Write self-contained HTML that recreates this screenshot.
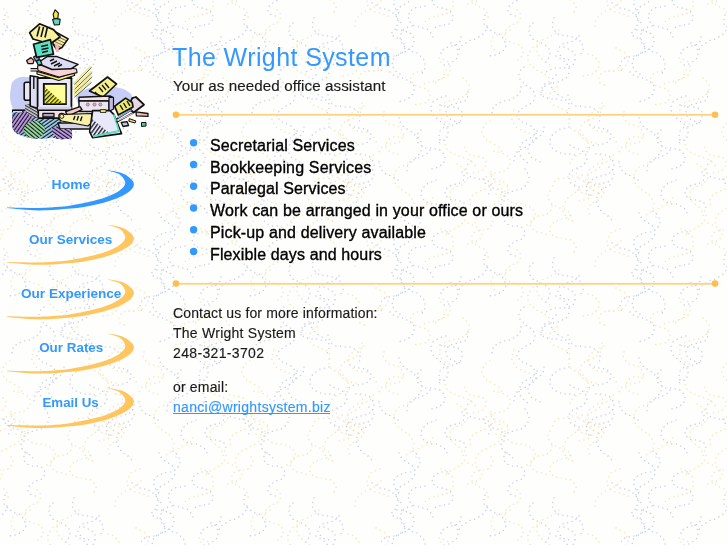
<!DOCTYPE html>
<html><head><meta charset="utf-8">
<title>The Wright System</title>
<style>
html,body{margin:0;padding:0;}
body{width:727px;height:545px;overflow:hidden;background:#fefef7;font-family:"Liberation Sans",sans-serif;position:relative;}
svg{position:absolute;left:0;top:0;}
#main,#nav{will-change:transform;}
text{font-family:"Liberation Sans",sans-serif;}
</style></head><body>

<svg id="bg" width="727" height="545"><defs><pattern id="bgp" width="240" height="240" patternUnits="userSpaceOnUse"><g fill="none" stroke-width="1.5" stroke-linecap="round" stroke-dasharray="0.01 4.8"><path d="M57,131 56,132 55,134 54,135 52,137 50,138 49,139 47,140 45,141 44,142 42,143 41,145 40,147 39,149 39,151 39,153 40,155 41,156 42,158 43,159 45,161 46,162 48,163 50,164 51,165M153,36 155,37 157,38 159,38 161,39 162,41 163,42 164,44 165,46 165,48 164,50 163,52 162,53 160,54 158,55 157,56 155,56 153,56 151,56 149,57 147,57 145,58 143,59 142,60 141,62 140,64 140,66 140,68 141,70 142,71 144,73M173,-29 174,-28 176,-27 177,-25 178,-24 179,-22 180,-20 180,-18 180,-16 179,-14 178,-13 177,-11 175,-10 173,-9 171,-8 169,-8 167,-8 165,-7 163,-7 162,-6 160,-5 158,-4 156,-3 155,-1 154,0 154,2 154,4 154,6 155,8 156,10 157,11 159,13 161,14M173,211 174,212 176,213 177,215 178,216 179,218 180,220 180,222 180,224 179,226 178,227 177,229 175,230 173,231 171,232 169,232 167,232 165,233 163,233 162,234 160,235 158,236 156,237 155,239 154,240 154,242 154,244 154,246 155,248 156,250 157,251 159,253 161,254M150,72 152,74 153,75 155,76 157,77 159,77 161,78 163,78 165,79 166,80 168,80 170,81 171,83 173,84 174,86 174,88 174,90 174,92 173,94 172,95 170,97 169,98 167,99 165,100 163,100 161,101 159,102 157,102M207,-8 205,-8 203,-8 201,-8 199,-7 197,-6 195,-5 194,-4 193,-2 192,-0 193,2 193,4 195,5 196,7 198,7 200,8 202,8 204,9 206,9 208,10 209,11 211,12 212,13 213,15 213,17 213,19 212,21 211,22 209,24 207,24 205,25 203,25 201,25 199,26 197,26 196,27 194,28M207,232 205,232 203,232 201,232 199,233 197,234 195,235 194,236 193,238 192,240 193,242 193,244 195,245 196,247 198,247 200,248 202,248 204,249 206,249 208,250 209,251 211,252 212,253 213,255 213,257 213,259 212,261 211,262 209,264 207,264 205,265 203,265 201,265 199,266 197,266 196,267 194,268M99,36 98,38 96,39 95,41 93,41 91,42 89,42 87,43 85,43 83,44 81,45 80,46 79,48 78,50 78,52 79,54 80,55 82,57 83,58 85,59 87,59 89,60 91,61 92,62M74,18 73,20 73,22 72,24 72,26 73,28 74,30 75,31 76,33 78,34 80,35 82,35 84,36 86,36 88,36 90,36 92,37 94,37 96,38 97,38 99,39 100,41 102,42 102,44 103,46 103,48 103,50 102,52 101,54 99,55M110,125 112,126 114,127 116,127 118,128 120,128 122,128 124,129 126,129 127,130 129,132 130,133 131,135 131,137 130,139 129,141 128,142 126,143 124,144 122,144 120,145 118,145 116,145 114,145 112,146 110,147 109,148 108,150 107,151 107,153 107,155M132,3 133,4 135,5 137,6 138,7 140,8 142,8 144,9 146,9 148,10 150,11 152,12 153,13 155,14 156,16 157,17 158,19 158,21 158,23 157,25 157,27 156,29 154,30 153,32 151,33 149,33M5,15 4,16 4,18 4,20 4,22 4,24 5,26 7,27 8,29 10,30 12,31 13,32 15,33 17,33 19,34 20,35 22,37 23,38 24,40 25,42 26,44 26,46 25,48 24,49 23,51 22,52 20,53 18,54 16,55 14,55 12,55 10,56M185,6 183,7 181,7 179,7 177,7 175,8 174,9 172,10 170,11 169,13 169,15 168,17 169,19 169,21 170,22 172,24 173,25 175,26 177,26 179,27 181,28 183,28 185,29 187,29 188,30 190,32 191,33 192,35 193,37 193,39M200,105 202,106 204,106 206,106 208,106 210,106 212,106 214,107 216,107 218,108 219,109 221,111 222,112 222,114 222,116 222,118 221,120 220,122 218,123 216,124 215,125 213,125 211,126 209,126 207,127 205,127 203,128 202,130 200,131 199,133 199,135 199,137 199,139 200,140 201,142 202,143M44,67 42,68 41,69 40,71 39,73 39,75 39,77 40,79 41,81 42,82 44,83 45,85 47,86 49,87 50,88 52,89 53,91 54,92 55,94 55,96 55,98 54,100 53,102 51,103 50,104 48,105 46,106 45,107 43,108 41,109 40,111 38,112 37,114 37,116 37,118M221,37 221,39 220,41 219,43 218,44 216,45 214,46 212,46 210,47 208,47 206,48 204,49 203,50 201,51 201,53 200,55 200,57M69,82 67,83 66,83 64,85 63,86 62,88 61,89 61,91 61,93 62,95 64,97 65,98 67,98 69,99 71,99 73,99 75,99 77,99 79,100 81,100 83,101 84,103M3,179 4,181 5,183 6,184 8,185 9,186 11,187 13,188 15,188 17,189 19,190 20,191 22,192 23,194 24,195 24,197 24,199 24,201 23,203 21,204 20,206M84,47 86,48 88,49 90,49 92,51 93,52 94,54 95,55 95,57 95,59 95,61 94,63 93,65 91,66 89,67 87,67 85,68 83,68 81,68 79,68 77,68 75,68 73,68 72,69 70,70 68,71 66,72 65,74 64,75M64,127 64,129 64,130 63,132 62,134 61,135 59,137 57,138 56,139 54,140 52,141 51,142 50,144 49,146 48,148 48,150 48,152 49,153 50,155 51,157 53,158 55,159 56,160 58,161 60,162 61,163 63,165M76,75 74,77 73,78 72,80 71,82 71,84 71,86 72,88 73,89 74,91 75,92 77,94 79,95 80,96 82,97 84,98 85,99 87,101 88,102 89,104 89,106 89,108 89,110 88,112 87,113M90,145 91,146 93,147 95,148 97,149 99,149 100,150 102,151 104,152 105,154 106,155 107,157 107,159 106,161 105,163 104,164 102,166 100,167 98,167 97,168 95,169 93,170 91,171 90,173 89,175 89,176 89,178 89,180 90,182 92,184 93,185 95,185 97,186 99,187 101,187M129,167 130,168 132,169 133,171 134,173 134,175 133,177 132,179 131,180 129,181 128,182 126,183 124,183 122,183 120,184 118,184 116,185 114,185 112,186M159,-27 160,-25 161,-23 162,-22 163,-21 165,-19 167,-18 168,-17 170,-16 172,-15 173,-13 174,-11 175,-10 175,-8 175,-6 174,-4 173,-2 172,-1 170,1 168,2 167,3 165,4 163,5 161,6 160,7 158,8 157,10 157,12 156,14 156,16 157,18 158,19 159,21 160,22 162,24M159,213 160,215 161,217 162,218 163,219 165,221 167,222 168,223 170,224 172,225 173,227 174,229 175,230 175,232 175,234 174,236 173,238 172,239 170,241 168,242 167,243 165,244 163,245 161,246 160,247 158,248 157,250 157,252 156,254 156,256 157,258 158,259 159,261 160,262 162,264M211,43 213,44 215,45 216,47 217,49 218,50 218,52 218,54 217,56 217,58 215,60 214,61 212,62 211,63 209,64 207,64 205,65 203,65M172,26 170,26 168,27 166,28 164,29 163,30 162,32 161,34 161,36 160,38 161,40 161,42 162,43 163,45 165,47 166,48 168,49 170,50 171,51 173,52 175,52 177,53 178,54 180,56 182,57 183,58 184,60 185,62 185,64 185,66 185,68 184,70 183,72 182,73M88,95 88,97 89,99 90,101 91,102 92,104 94,105 96,106 98,106 100,106 102,107 104,107 106,107 108,107 110,107 112,108 114,109 115,109 117,111 118,112 119,114 120,116 120,118 120,120 119,122M116,154 118,154 120,154 122,154 124,155 126,155 128,156 130,157 131,158 132,160 133,161 134,163 134,165 133,167 133,169 132,171 130,172 129,174 127,174 125,175 123,176 121,176 119,177 117,177 115,178 113,179 112,180 110,181 109,182 107,184 107,186 106,187 106,189 107,191 107,193 109,195 110,196M76,56 77,57 79,58 81,59 82,60 84,61 86,62 87,64 88,66 89,67 89,69 89,71 89,73 88,75 87,77 86,78 84,79 82,80 81,81 79,82 77,82 75,83 73,83 71,84 69,84 67,85 65,86 64,88 63,89 62,91 61,93 61,95 62,97M41,87 41,89 41,90 40,92 39,94 38,95 36,97 34,98 32,98 31,99 29,100 27,100 25,101 23,101 21,102 19,103 17,104 16,105 14,106 13,108 12,110 12,112 12,114 12,116M206,96 204,97 202,97 200,98 198,99 196,100 195,101 193,102 192,104 191,106 191,108 191,110 192,112 192,113 193,115 195,117 196,118 198,119 199,120 201,122 203,123 204,124 206,126 207,127 207,129 208,131 208,133 208,135 207,137 206,139 204,140 203,141 201,142 199,143M45,169 46,171 47,172 48,174 49,176 49,178 49,180 48,182 47,184 46,185 44,187 43,188 41,189 39,189 37,190 35,191 33,191 31,192 30,192 28,193 26,194 25,196 23,197 22,199 22,201 21,203 21,205 22,207 22,209 24,210 25,212 26,213 28,214 30,215 31,217 33,218M139,162 139,164 140,166 140,168 141,170 143,171 144,172 146,174 148,174 149,175 151,176 153,177 155,178 157,179 158,180 159,182 160,183M27,-27 26,-26 24,-24 24,-22 24,-20 25,-18 26,-17 27,-16 29,-15 31,-14 33,-14 35,-14 37,-14 39,-14 41,-13 43,-12 44,-10 45,-8 45,-6 44,-4 43,-3 42,-1 40,-0 38,0 36,1 35,2 33,3 31,4 30,5 29,7 28,9 28,11 29,13 30,14 32,15 34,16 36,16M27,213 26,214 24,216 24,218 24,220 25,222 26,223 27,224 29,225 31,226 33,226 35,226 37,226 39,226 41,227 43,228 44,230 45,232 45,234 44,236 43,237 42,239 40,240 38,240 36,241 35,242 33,243 31,244 30,245 29,247 28,249 28,251 29,253 30,254 32,255 34,256 36,256M-9,161 -11,163 -12,164 -13,166 -14,168 -14,170 -14,172 -13,173 -12,175 -10,176 -9,177 -7,178 -5,178 -3,178 -1,179 1,179 3,179 5,180 7,180 9,182 10,183 11,185 11,187 11,189 11,191 10,192 9,194 7,195 5,196M231,161 229,163 228,164 227,166 226,168 226,170 226,172 227,173 228,175 230,176 231,177 233,178 235,178 237,178 239,179 241,179 243,179 245,180 247,180 249,182 250,183 251,185 251,187 251,189 251,191 250,192 249,194 247,195 245,196M157,30 159,30 161,30 163,31 165,31 167,32 169,32 171,34 172,35 173,37 174,38 174,40 174,42 173,44 173,46 171,48 170,49 168,50 166,51 165,52 163,53 161,53 159,54 157,55 156,57 154,58 153,60 153,62 152,64 152,66 153,67 154,69 155,71 157,72 159,73 160,74 162,74 164,74M181,130 179,132 178,133 177,135 177,137 177,139 177,141 178,143 179,144 180,145 182,146 184,147 186,148 188,148 190,148 192,148 194,149 196,149 198,149 200,150 201,151 203,153 204,154 205,156 205,158 205,160 204,162 203,164 201,165 200,166 198,167 196,168 194,168 192,169M130,185 128,186 126,187 125,188 123,189 121,190 120,192 119,193 118,195 117,197 117,199 116,201 117,203 117,205 118,206 119,208 120,210 122,211 123,213 125,214 126,215 128,216 129,217 131,219 132,220M196,180 194,181 192,182 190,182 189,183 187,184 185,185 184,187 183,188 182,190 181,192 181,194 181,196 182,198 183,199 185,201 187,202 188,203 190,203 192,204 194,204 196,204 198,205 200,206 202,206 204,208 205,209 206,211 207,212 207,214M228,92 228,94 228,96 227,98 226,99 225,101 223,102 221,102 219,103 217,103 215,104 213,104 211,105 210,106 208,107 207,109 206,111 206,113 207,115 207,117 209,118 210,119 212,120 214,121 216,122 218,122 220,123 222,123 223,124M159,118 159,120 160,122 161,124 162,125 164,127 165,128 167,129 168,130 170,131 172,132 173,133 175,135 177,136 178,137 179,139 180,140 181,142 182,144 182,146 182,148 181,150 181,152 180,154 178,155 177,157 176,158 174,159 172,160M190,150 189,151 188,153 186,154 185,155 183,156 181,157 179,158 177,158 175,159 174,160 172,161 170,162 169,164 168,165 167,167 167,169 167,171M222,172 224,173 224,175 224,177 224,179 223,181 221,182 220,183 218,184 216,184 214,185 212,185 210,186 208,187 207,188 206,190 205,192 205,194 205,195 207,197 208,198 210,199 212,200 214,200 216,200 218,200 220,201 222,201 223,202 225,204 226,206 226,208 226,210 225,211M39,119 40,121 42,122 44,122 45,123 47,124 49,125 51,126 52,127 54,129 55,130 56,132 56,134 56,136 56,138 55,140 54,142 52,143 51,144 49,145 47,146 46,147 44,148 42,149 40,150 38,151 37,152 36,154 35,156 34,157 34,159 34,161 35,163M89,127 87,128 85,128 83,129 81,129 79,130 78,131 76,132 74,133 73,134 72,136 71,138 70,140 70,142 70,144 71,146 72,147 73,149 74,150 76,151 78,152 80,153 82,153 84,154 86,154 88,154 90,154 92,154 94,155 95,155M7,26 6,28 6,30 5,32 3,34 2,35 0,36 -1,37 -3,38 -5,39 -7,40 -9,40 -11,41 -12,42 -14,43 -16,44 -17,45 -19,46 -20,48 -21,50 -21,52M247,26 246,28 246,30 245,32 243,34 242,35 240,36 239,37 237,38 235,39 233,40 231,40 229,41 228,42 226,43 224,44 223,45 221,46 220,48 219,50 219,52M53,23 51,24 50,26 49,28 49,29 49,31 49,33 50,35 51,37 52,38 54,40 55,41 57,41 59,42 61,43 63,44 64,45 66,46 67,47 69,49 69,51 70,53 70,55 69,57 68,59 67,60 66,62 64,63" stroke="#c8cfe8"/><path d="M201,62 203,64 204,65 205,67 206,69 206,70 206,72 205,74 204,76 203,78 201,79 200,80 198,80 196,81 194,81 192,82 190,82 188,82 186,83 184,84 183,85 182,87M15,182 17,183 19,184 20,186 21,188 22,189 22,191 22,193 22,195 21,197 21,199 19,201 18,202 17,203 15,204 13,205 11,206 9,207 8,208 6,209 4,210 2,211 1,212 -1,213 -2,215 -3,216 -4,218 -5,220 -5,222 -5,224M255,182 257,183 259,184 260,186 261,188 262,189 262,191 262,193 262,195 261,197 261,199 259,201 258,202 257,203 255,204 253,205 251,206 249,207 248,208 246,209 244,210 242,211 241,212 239,213 238,215 237,216 236,218 235,220 235,222 235,224M225,211 225,213 226,215 226,217 225,219 225,221 223,222 222,224 221,225 219,226 217,227 216,228 214,229 212,230 210,231 209,232 207,234 206,235 205,237M217,164 218,165 220,166 222,167 223,169 225,170 226,171 227,173 228,175 228,177 227,179 226,181 225,182 224,184 222,185 220,185 218,186 216,187 214,188 213,189 211,190 210,192 210,194 210,196 210,198 211,200 212,201 213,203 215,204 217,205 218,206 220,208 221,209 222,211 223,213 223,215 223,216 222,218M138,68 136,70 134,71 132,71 130,71 128,71 126,71 124,72 123,72 121,74 120,75 119,77 119,79 119,81 120,83 122,84 124,85 125,86M11,172 11,174 11,176 12,178 14,179 16,180 18,181 20,181 21,182 23,182 25,183 27,184 28,186 28,188 28,190 27,192 26,193 24,194 22,195 20,195 18,195 16,194 14,194 12,195M37,10 39,12 40,13 40,15 40,17 40,19 39,21 38,22 36,24 34,24 32,25 31,26 29,27 27,28 26,30 25,32 25,34 25,36 25,38 26,39 28,41 30,42 31,42 33,43 35,44 37,44 39,45 40,47 42,48 43,50 43,52 43,54 42,56 41,57 39,59 38,60 36,61M122,103 122,105 122,107 122,109 121,111 120,113 119,114 117,116 116,117 114,118 112,119 110,119 108,120 107,121 105,122 103,123 102,125 101,126 100,128 100,130 100,132 100,134 101,136 102,138 104,139 106,140 107,141 109,142 111,142 113,143 115,143 117,143 119,144M14,151 16,151 18,152 20,152 22,153 24,154 26,155 27,156 29,157 30,159 30,161 30,163 30,165 29,167 28,168 26,170 25,171 23,171 21,172 19,172 17,173 15,173 13,173 11,174 9,175 8,176 6,177M77,87 75,88 73,89 72,91 71,92 70,94 69,96 69,98 70,100 70,102 72,103 73,105 75,106 77,107 79,107 80,108 82,109 84,109 86,110 87,112 89,113 90,115 90,117 90,119M57,45 55,46 54,47 52,48 51,49 50,51 49,53 48,55 48,57 48,59 48,61 49,63 50,64 51,66 53,67 54,68 56,70 58,71 59,72 61,72 63,73 65,74 66,76 68,77 69,78 70,80 71,82M108,54 110,55 112,55 114,56 115,57 117,59 118,60 119,62 119,64 119,66 118,68 117,70 116,71 114,73 112,74 111,74 109,75 107,75 105,75 103,76M70,191 69,192 68,194 68,196 68,198 69,200 70,202 71,203 73,205 75,206 76,206 78,207 80,208 82,208 84,209 86,210 87,211 89,212 90,214 91,216 92,217 92,219 92,221M-12,-17 -10,-16 -8,-15 -7,-15 -5,-14 -3,-13 -1,-12 0,-10 1,-9 2,-7 2,-5 1,-3 0,-1 -1,0 -3,1 -4,2 -6,3 -8,3 -10,4 -12,4 -14,5 -16,6M-12,223 -10,224 -8,225 -7,225 -5,226 -3,227 -1,228 0,230 1,231 2,233 2,235 1,237 0,239 -1,240 -3,241 -4,242 -6,243 -8,243 -10,244 -12,244 -14,245 -16,246M228,-17 230,-16 232,-15 233,-15 235,-14 237,-13 239,-12 240,-10 241,-9 242,-7 242,-5 241,-3 240,-1 239,0 237,1 236,2 234,3 232,3 230,4 228,4 226,5 224,6M228,223 230,224 232,225 233,225 235,226 237,227 239,228 240,230 241,231 242,233 242,235 241,237 240,239 239,240 237,241 236,242 234,243 232,243 230,244 228,244 226,245 224,246M11,-23 12,-21 13,-20 13,-18 12,-16 11,-14 10,-13 8,-11 6,-11 4,-10 2,-10 0,-10 -1,-9 -3,-9 -5,-8 -7,-6 -8,-5 -8,-3 -8,-1 -8,1 -6,3 -5,4 -3,5 -2,6 0,7 2,8 4,9 5,10 7,12 7,14 8,16 8,18 7,19M11,217 12,219 13,220 13,222 12,224 11,226 10,227 8,229 6,229 4,230 2,230 0,230 -1,231 -3,231 -5,232 -7,234 -8,235 -8,237 -8,239 -8,241 -6,243 -5,244 -3,245 -2,246 0,247 2,248 4,249 5,250 7,252 7,254 8,256 8,258 7,259M251,-23 252,-21 253,-20 253,-18 252,-16 251,-14 250,-13 248,-11 246,-11 244,-10 242,-10 240,-10 239,-9 237,-9 235,-8 233,-6 232,-5 232,-3 232,-1 232,1 234,3 235,4 237,5 238,6 240,7 242,8 244,9 245,10 247,12 247,14 248,16 248,18 247,19M251,217 252,219 253,220 253,222 252,224 251,226 250,227 248,229 246,229 244,230 242,230 240,230 239,231 237,231 235,232 233,234 232,235 232,237 232,239 232,241 234,243 235,244 237,245 238,246 240,247 242,248 244,249 245,250 247,252 247,254 248,256 248,258 247,259M-15,147 -15,149 -14,151 -13,153 -12,154 -10,155 -8,156 -6,156 -4,156 -2,156 -1,157 1,157 3,158 5,160 6,161 6,163 6,165 5,167 4,169 3,170 1,171 -1,172 -3,172 -5,173 -7,173M225,147 225,149 226,151 227,153 228,154 230,155 232,156 234,156 236,156 238,156 239,157 241,157 243,158 245,160 246,161 246,163 246,165 245,167 244,169 243,170 241,171 239,172 237,172 235,173 233,173M193,198 193,199 192,201 190,202 188,204 187,204 185,205 183,206 181,207 179,208 178,209 177,211 176,213 175,215 176,217 176,218 177,220M30,30 29,31 27,32 25,33 23,33 21,34 20,34 18,35 16,35 14,36 12,38 11,39 11,41 11,43 11,45 12,47 13,48 15,50 17,51M79,30 78,31 76,33 75,34 73,35 71,36 70,37 68,38 66,38 64,39 62,40 61,42 59,43 58,45 57,47 57,49 57,51 57,53 58,54 59,56 60,58 62,59 63,60 65,62 66,63 68,64 70,65 71,66 73,67M89,119 89,121 89,123 89,125 90,127 91,128 93,130 95,131 96,132 98,133 100,133 102,134 103,135 105,137 106,138 107,140 108,142 108,144 108,146 107,148 106,149 104,151 103,152 101,153 99,154 98,155 96,156 94,157 93,158 91,160 91,162 90,164 90,166M90,-25 88,-23 86,-22 85,-22 83,-21 81,-21 79,-20 77,-19 75,-19 73,-17 72,-16 71,-14 70,-13 70,-11 70,-9 71,-7 72,-5 74,-4 76,-3 78,-2 80,-2 82,-2 84,-2 86,-1 87,-1 89,-1 91,0 93,1 94,3 95,5 96,7 96,9 95,11 94,12 93,14M90,215 88,217 86,218 85,218 83,219 81,219 79,220 77,221 75,221 73,223 72,224 71,226 70,227 70,229 70,231 71,233 72,235 74,236 76,237 78,238 80,238 82,238 84,238 86,239 87,239 89,239 91,240 93,241 94,243 95,245 96,247 96,249 95,251 94,252 93,254M141,1 140,3 138,4 137,5 135,7 133,7 132,8 130,9 128,10 126,11 124,12 123,13 121,14 120,15 118,17 117,18 116,20 115,22 115,24 115,26M141,241 140,243 138,244 137,245 135,247 133,247 132,248 130,249 128,250 126,251 124,252 123,253 121,254 120,255 118,257 117,258 116,260 115,262 115,264 115,266M201,-11 203,-11 204,-10 206,-9 208,-8 209,-6 211,-5 212,-3 213,-1 213,1 213,3 213,5 213,6 212,8 211,10 209,11 208,13 206,14 204,14 202,15 200,16 198,16 197,17 195,17 193,17 191,18 189,19 187,20 186,21 184,22M201,229 203,229 204,230 206,231 208,232 209,234 211,235 212,237 213,239 213,241 213,243 213,245 213,246 212,248 211,250 209,251 208,253 206,254 204,254 202,255 200,256 198,256 197,257 195,257 193,257 191,258 189,259 187,260 186,261 184,262M199,58 201,59 203,59 204,60 206,61 208,62 209,64 210,66 210,68 210,70 210,71 209,73 208,75 206,76 205,77 203,78 201,79 199,80 198,81 196,82 195,84M99,179 101,180 103,181 104,182 106,183 108,184 110,185 111,186 112,188 113,190 113,192 113,194 112,195 110,197 109,198 107,199 105,200 103,200 101,201 99,201 98,202M124,106 122,107 121,108 119,109 117,110 115,110 113,111 112,113 110,114 109,116 109,118 108,120 108,122 109,124 110,125 111,127 112,128 114,129 116,130 118,131 120,131 122,132 124,132 126,132 128,133 130,134 131,134 133,136 134,137 135,139 136,141 136,143 136,145M205,140 205,142 205,144 206,146 206,148 208,150 209,151 210,152 212,153 214,154 216,155 218,156 220,156 222,157 223,157 225,158 227,159 229,160 231,161 232,162 234,164 235,165 235,167M144,112 143,114 143,116 144,118 145,120 146,121 148,123 149,124 151,124 153,125 155,126 157,126 159,127 160,128 162,130 163,132 163,133 164,135 163,137 162,139 161,141 159,142 157,143 156,143 154,144 152,144 150,144 148,144 146,145 144,146 142,147 141,148 140,150 139,152 139,154 139,156M172,162 170,163 169,164 167,164 165,165 163,166 161,166 159,167 158,169 156,170 155,172 154,173 154,175 153,177 154,179 154,181 155,183 156,185 157,186 159,187 160,189 162,190 164,191 165,192 167,193 169,194 170,196 171,197 172,199 173,201 174,203 174,205 174,207 173,209 172,210 171,212 169,213 168,214 166,215M102,175 100,176 98,177 97,179 96,180 95,182 95,184 95,186 96,188 98,190 99,191 101,192 103,193 105,193 107,194 109,194 110,195 112,196 114,197M140,-11 138,-10 137,-10 135,-9 133,-8 131,-7 130,-6 129,-4 128,-2 127,-0 127,2 127,4 128,6 129,7 130,9 132,10 133,11 135,12 137,13 139,13 141,14 143,14 145,15 147,16 148,16 150,17M140,229 138,230 137,230 135,231 133,232 131,233 130,234 129,236 128,238 127,240 127,242 127,244 128,246 129,247 130,249 132,250 133,251 135,252 137,253 139,253 141,254 143,254 145,255 147,256 148,256 150,257M182,71 180,71 178,72 176,72 174,73 173,75 172,76 171,78 171,80 172,82 173,84 175,85 176,86 178,87 180,87 182,88 184,88 186,89 188,90 189,92 190,93 190,95 190,97 189,99 188,101 187,102 185,103 183,103 181,104 179,104 177,104 175,105M163,136 161,136 159,137 157,137 155,137 153,137 151,138 149,139 148,140 147,142 146,144 146,146 146,148 147,149 149,151 151,152 152,153 154,153 156,153 158,154 160,154M133,155 132,157 131,159 129,160 128,161 126,162 124,163 122,163 120,164 118,164 116,165 115,166 113,167 111,168 110,169 109,171 108,173 108,175 108,177 108,179 109,181 110,182 112,184 113,185 115,186 117,186 119,187M10,121 8,122 7,123 5,124 4,126 3,128 2,130 2,132 2,133 3,135 4,137 5,139 7,140 8,141 10,142 12,143 14,144 15,145 17,146 19,147 20,149 21,150 22,152M27,187 26,189 25,190 25,192 25,194 25,196 26,198 28,200 29,201 31,202 33,203 35,203 37,204 39,204 41,204 43,204 45,205 47,205 48,206 50,207 52,208 53,209 54,211 55,213 55,215 55,217 54,219 53,220 52,222 51,223 49,224 47,225 45,226M136,48 138,49 140,50 142,51 144,52 145,53 146,55 147,57 147,59 148,61 147,63 146,65 145,66 144,68 142,69 141,70 139,70 137,71 135,71 133,71 131,71 129,71 127,71M72,206 72,208 71,210 70,212 68,213 67,214 65,215 63,215 61,215 59,216 57,216 55,217 53,218 52,219 51,221 50,223 50,225 51,227 52,229 54,230 56,231 57,232 59,232 61,233 63,233 65,234 67,235 68,236M120,155 121,157 122,158 123,160 122,162 122,164 121,166 119,168 118,169 116,170 114,171 113,172 111,173 109,174 108,175 107,177 106,179 106,181 107,183 107,185 109,186 110,188 112,189 113,190 115,191 117,192 118,193M223,78 225,79 226,80 227,82 228,83 229,85 229,87 229,89 228,91 227,93 226,95 225,96 223,97 221,98 219,99 217,99 215,99 213,100 211,100 209,101 208,101 206,102 204,103 203,105 201,106 200,108 200,110 199,112 200,114 200,116 201,118 202,119 204,121 205,122 207,123 209,124 211,124M105,182 104,184 103,185 102,187 101,188 99,190 98,191 96,192 94,193 93,194 91,196 90,197 88,198 87,200 86,201 85,203 84,205 83,207 83,209 83,211 84,213 85,215 86,216 87,218 88,219 90,220 92,221 93,222M111,182 113,182 115,183 117,183 119,184 121,185 122,187 123,188 124,190 124,192 123,194 122,196 121,198 119,199 118,200 116,201 114,202 113,203 111,204 110,206 109,208 108,209 108,211 109,213 110,215 111,216M34,110 33,112 33,114 32,116 32,118 32,120 33,122 34,124 35,125 36,127 38,128 40,129 41,130 43,131 45,132 47,132 49,133 51,134 52,135 54,136 56,137M98,169 97,171 97,173 95,174 94,175 92,176 90,177 88,177 86,177 84,178 82,178 80,178 78,179 76,180 75,181 74,183 73,185 73,187M12,175 13,177 14,178 13,180 13,182 12,184 11,186 9,187 8,188 6,189 4,190 2,190 0,191 -2,192 -4,193 -5,194 -7,195 -8,196 -9,198 -10,200 -10,202 -10,204 -9,206M252,175 253,177 254,178 253,180 253,182 252,184 251,186 249,187 248,188 246,189 244,190 242,190 240,191 238,192 236,193 235,194 233,195 232,196 231,198 230,200 230,202 230,204 231,206" stroke="#f0e5bc"/></g></pattern></defs><rect width="727" height="545" fill="#fefefc"/><filter id="bgb" x="0" y="0" width="1" height="1"><feGaussianBlur stdDeviation="0.8"/></filter><rect width="727" height="545" fill="url(#bgp)"/></svg>

<!-- clip art -->
<svg id="art" width="160" height="150" viewBox="0 0 160 150">
  <defs>
    <pattern id="pPur" width="3" height="3" patternUnits="userSpaceOnUse" patternTransform="rotate(-55)">
      <rect width="3" height="3" fill="#151515"/><rect width="3" height="1.85" fill="#c29aee"/>
    </pattern>
    <pattern id="pPur2" width="3" height="3" patternUnits="userSpaceOnUse" patternTransform="rotate(35)">
      <rect width="3" height="3" fill="#151515"/><rect width="3" height="1.85" fill="#c29aee"/>
    </pattern>
    <pattern id="pGrn" width="3" height="3" patternUnits="userSpaceOnUse" patternTransform="rotate(40)">
      <rect width="3" height="3" fill="#151515"/><rect width="3" height="1.9" fill="#98dea0"/>
    </pattern>
    <pattern id="pBlu" width="3" height="3" patternUnits="userSpaceOnUse" patternTransform="rotate(-35)">
      <rect width="3" height="3" fill="#151515"/><rect width="3" height="1.85" fill="#9ad4f6"/>
    </pattern>
    <pattern id="pHatch" width="3" height="3" patternUnits="userSpaceOnUse" patternTransform="rotate(-45)">
      <rect width="3" height="3" fill="#ffff20"/><rect width="3" height="1.3" fill="#222"/>
    </pattern>
    <pattern id="pGrey" width="2.6" height="2.6" patternUnits="userSpaceOnUse" patternTransform="rotate(30)">
      <rect width="2.6" height="2.6" fill="#d8d4e0"/><rect width="2.6" height="1.2" fill="#3a3a3a"/>
    </pattern>
    <pattern id="pLav" width="3.2" height="3.2" patternUnits="userSpaceOnUse" patternTransform="rotate(-55)">
      <rect width="3.2" height="3.2" fill="#e4e4f6"/><rect width="3.2" height="1.4" fill="#2a2a3a"/>
    </pattern>
    <pattern id="pStack" width="2.8" height="2.8" patternUnits="userSpaceOnUse" patternTransform="rotate(25)">
      <rect width="2.8" height="2.8" fill="#f8f0a0"/><rect width="2.8" height="0.9" fill="#6a6440"/>
    </pattern>
    <pattern id="pSpeed" width="3.4" height="3.4" patternUnits="userSpaceOnUse" patternTransform="rotate(-40)">
      <rect width="3.4" height="3.4" fill="none"/><rect width="3.4" height="1.7" fill="#f2e890"/>
    </pattern>
  </defs>
  <g stroke-linejoin="round">
  <!-- clouds -->
  <g fill="#c6cef6">
    <path d="M11,88 C11,80 18,76 26,77 L36,77 L36,110 L14,110 C10,104 9,96 11,88 Z"/>
    <path d="M76,96 C80,90 92,86 104,87 C112,85 126,88 131,94 C134,99 130,103 124,104 L112,104 L78,104 Z"/>
  </g>
  <!-- rug -->
  <path d="M12,110.5 L38,110.5 L38,118 L47,118.5 L58,118 L63,124 L72,127.5 L72,138.5 L62,139.5 L52,137.5 L44,138.8 L34,138.8 L26,137 L18,134.5 C14,132.5 12,129 12,125 Z" fill="url(#pBlu)"/>
  <path d="M12.3,114 L25.5,111.5 L34,119.5 L31,127 L25.6,130.4 L18.6,134 C14.5,132 12.3,129 12.3,126 Z" fill="url(#pPur)"/>
  <ellipse cx="34.4" cy="129.6" rx="10.6" ry="8.8" fill="url(#pGrn)"/>
  <path d="M51,128 L60,125.5 L72,128.5 L72,138.5 L62,139.2 L53,134 Z" fill="url(#pPur2)"/>
  <rect x="12" y="109.4" width="26" height="1.6" fill="#111"/>
  <rect x="13" y="111" width="9" height="1.2" fill="#b8e0fa"/>
  <!-- grey keyboard -->
  <path d="M25,104 L37,104 L37.5,118 L30,116 L25,110 Z" fill="url(#pGrey)"/>
  <!-- monitor -->
  <rect x="24.2" y="82.2" width="6.5" height="18" rx="2" fill="#e6e6f8" stroke="#111" stroke-width="1.6"/>
  <path d="M30.2,75.8 L38,77 L38,108.6 L30.2,106 Z" fill="#dcdcf2" stroke="#111" stroke-width="1.6"/>
  <line x1="33.8" y1="76.5" x2="33.8" y2="89" stroke="#111" stroke-width="1.4"/>
  <rect x="37.6" y="78" width="33.8" height="31.6" fill="#e8e8f8" stroke="#111" stroke-width="1.8"/>
  <rect x="42.9" y="83" width="23.9" height="22" fill="#111"/>
  <rect x="44.8" y="84.8" width="20.6" height="18.4" fill="#ffff9a"/>
  <path d="M44.8,87 L63,103.2 L44.8,103.2 Z" fill="url(#pHatch)"/>
  <rect x="38" y="106.8" width="33.4" height="3.2" fill="#d2d2ec"/>
  <!-- cpu base -->
  <rect x="38.3" y="110.3" width="31.2" height="7.8" fill="#f8e0e2" stroke="#111" stroke-width="1.6"/>
  <rect x="42.9" y="113.3" width="11.1" height="3.7" fill="#a8a8c8" stroke="#111" stroke-width="1.3"/>
  <!-- paper stack on monitor -->
  <path d="M37,71.4 L58.8,77.6 L74,72.4 L74.5,75.5 L58.8,80.5 L37,74 Z" fill="#f4ec7c" stroke="#111" stroke-width="1.1"/>
  <path d="M37.5,66 L45,64.5 L76.5,69 L77,72.6 L59,77 L38,70.5 Z" fill="#f8d2d4" stroke="#111" stroke-width="1.1"/>
  <path d="M40.6,61 L47,56.6 L57,56.6 L78,64.4 L71,68.8 L52,69.5 L40,64.5 Z" fill="#dcdcf4" stroke="#111" stroke-width="1.5"/>
  <g stroke="#111" stroke-width="1.4">
    <line x1="50" y1="61" x2="54" y2="59"/><line x1="51" y1="64" x2="57" y2="61"/><line x1="54" y1="66" x2="60" y2="63"/><line x1="58" y1="66.5" x2="62" y2="64.5"/>
  </g>
  <path d="M30.5,68.6 L38,68.6 M30.5,71 L37,71" stroke="#111" stroke-width="1.2"/>
  <!-- arm -->
  <path d="M26.6,60.5 L31,57.6 L34,60.6 L33,63.6 L28,63.5 Z" fill="#f4bcbc" stroke="#111" stroke-width="1.3"/>
  <path d="M33.5,57 L37.5,54.8 L39.5,58 L36.5,62 Z" fill="#84a8f0" stroke="#111" stroke-width="1.2"/>
  <path d="M36.5,61 L40,59.6 L42,64.4 L38,65 Z" fill="#40d4b0" stroke="#111" stroke-width="1.2"/>
  <!-- yellow paper stack edges (right) -->
  <path d="M52,30 L68.2,38.8 L62,47.5 L57,50 L53,44 Z" fill="url(#pStack)" stroke="#111" stroke-width="1.5"/>
  <path d="M55,43.2 L58.3,43.4 L59,52 L55.8,52 Z" fill="#f0b8c0"/>
  <!-- yellow paper top -->
  <path d="M29.6,32.6 L39.6,23.8 L53.5,29.6 L60,37 L50,44 L33,39 Z" fill="#f8f09c" stroke="#111" stroke-width="1.7"/>
  <g stroke="#111" stroke-width="1.6">
    <line x1="39.6" y1="26.5" x2="37" y2="36.5"/><line x1="43.5" y1="27" x2="41" y2="37"/><line x1="47.3" y1="27.5" x2="45" y2="37.5"/>
  </g>
  <!-- teal paper -->
  <path d="M33.5,44.2 L50.4,39.6 L53.5,54.2 L36.6,57.3 Z" fill="#58e0c4" stroke="#111" stroke-width="1.7"/>
  <g stroke="#111" stroke-width="1.3"><line x1="41" y1="46.5" x2="48" y2="45"/><line x1="41.5" y1="49.5" x2="48.5" y2="48"/><line x1="42" y1="52.5" x2="48" y2="51"/></g>
  <!-- spark -->
  <path d="M55.2,9.8 L58.4,13.2 L57.8,18.8 L54,18.6 L53.2,14.2 Z" fill="#f4e448" stroke="#111" stroke-width="1.1"/>
  <path d="M52.6,19.6 L56,18.4 L60.2,19.4 L59.4,24.6 L54.4,25 Z" fill="#5ad8bc" stroke="#111" stroke-width="1.1"/>
  <!-- speed lines -->
  <line x1="74.5" y1="84.7" x2="91.5" y2="67.39999999999999" stroke="#444" stroke-width="0.9"/>
  <line x1="73.7" y1="83.4" x2="90.7" y2="66.1" stroke="#f4ec8c" stroke-width="1.9"/>
  <line x1="74.5" y1="89.3" x2="92.2" y2="72.39999999999999" stroke="#444" stroke-width="0.9"/>
  <line x1="73.7" y1="88" x2="91.4" y2="71.1" stroke="#f4ec8c" stroke-width="1.9"/>
  <line x1="74.5" y1="93.3" x2="92.2" y2="77.0" stroke="#444" stroke-width="0.9"/>
  <line x1="73.7" y1="92" x2="91.4" y2="75.7" stroke="#f4ec8c" stroke-width="1.9"/>
  <line x1="74.5" y1="97.1" x2="91.5" y2="82.39999999999999" stroke="#444" stroke-width="0.9"/>
  <line x1="73.7" y1="95.8" x2="90.7" y2="81.1" stroke="#f4ec8c" stroke-width="1.9"/>
  <!-- fax paper -->
  <path d="M89.5,91 L107.5,77 L116.5,84 L103,97 Z" fill="#f8f08c" stroke="#111" stroke-width="1.7"/>
  <g stroke="#111" stroke-width="1.3"><line x1="99" y1="87" x2="103" y2="92"/><line x1="102" y1="85" x2="106" y2="90"/><line x1="105" y1="83" x2="109" y2="88"/><line x1="95" y1="92" x2="98" y2="95"/></g>
  <!-- fax machine -->
  <path d="M79,97.3 L110,96 L113,97.5 L112,101 L78.8,101 Z" fill="#f4e2ea" stroke="#111" stroke-width="1.4"/>
  <rect x="79" y="101" width="30" height="10.5" fill="#ece4f2" stroke="#111" stroke-width="1.4"/>
  <path d="M109,97.5 L113.5,97.5 L113.5,109 L109,111.5 Z" fill="#c4bce0" stroke="#111" stroke-width="1.2"/>
  <g fill="#e0a8b0" stroke="#555" stroke-width="0.5"><circle cx="87.8" cy="104.5" r="1.6"/><circle cx="94.5" cy="104.5" r="1.6"/><circle cx="100.3" cy="104.5" r="1.6"/></g>
  <!-- pink roll -->
  <path d="M65.6,111.6 L80,106.7 L82,109.6 L67.6,116.4 Z" fill="#f8c8c8" stroke="#111" stroke-width="1.4"/>
  <!-- lavender band under yellow paper -->
  <path d="M58,123 L93,123 L93,129 L60,129 Z" fill="#d4d4ea" stroke="#111" stroke-width="1.4"/>
  <!-- lower-left yellow paper -->
  <path d="M59,117 C58,113 62,112.5 64.7,114.4 L91.6,113.5 L91.6,123 L87.8,126 L61.8,121 C59.5,120.5 59,119 59,117 Z" fill="#f8f0a4" stroke="#111" stroke-width="1.2"/>
  <circle cx="61.8" cy="116.4" r="2" fill="none" stroke="#111" stroke-width="0.9"/>
  <g stroke="#111" stroke-width="1.4"><line x1="75" y1="116" x2="73.5" y2="120"/><line x1="78.5" y1="116" x2="77" y2="120.5"/><line x1="82" y1="116.5" x2="80.5" y2="121"/></g>
  <path d="M56,129 L72,129 L70,138.5 L56,138.5 Z" fill="url(#pPur2)"/>
  <!-- front lavender paper -->
  <path d="M92.6,110.6 L109.9,110.6 L113.8,114.4 L121.5,133.7 L92.6,137.6 L89.7,131.8 Z" fill="#e8e8f8" stroke="#111" stroke-width="1.7"/>
  <path d="M92,119 L110,133.5 L92.6,136 L90.5,131 Z" fill="url(#pLav)"/>
  <path d="M113.8,114.4 L119,131 L93,136.5" fill="none" stroke="#5cdcbc" stroke-width="1.8"/>
  <rect x="100.3" y="109.6" width="5.7" height="2.9" fill="#f0e060" stroke="#111" stroke-width="0.8"/>
  <!-- right cluster -->
  <path d="M132.2,98.1 L135.9,97 L144,104.7 L133.7,112.5 L128,108 Z" fill="#e8d8e2" stroke="#111" stroke-width="1.8"/>
  <path d="M114.6,106.2 L125.6,98.1 L132.2,102.5 L133,106.9 L118.3,115 Z" fill="#f0e874" stroke="#111" stroke-width="1.7"/>
  <g stroke="#111" stroke-width="1.4"><line x1="120" y1="105" x2="123" y2="110"/><line x1="123.5" y1="103" x2="126.5" y2="108"/><line x1="127" y1="101" x2="130" y2="106"/></g>
  <path d="M116.5,119 L132,109.5 M116.5,122 L133,113" stroke="#111" stroke-width="1.6"/>
  <line x1="117.5" y1="117.9" x2="131.5" y2="109.8" stroke="#80b0f8" stroke-width="1.3"/>
  <line x1="117.5" y1="120.8" x2="133" y2="113.5" stroke="#ecc8d0" stroke-width="1.2"/>
  <path d="M121.2,122.5 L127,121.6 L128.6,125.5 L123,126.5 Z" fill="#c4c4e6" stroke="#111" stroke-width="1.3"/>
  <path d="M129.3,118.6 L135.9,121 L135,123 L128.8,121.2 Z" fill="#f0e060" stroke="#111" stroke-width="1"/>
  <path d="M135.9,111.8 L148,113.5 L148,116.4 L136.4,115.8 Z" fill="#f0c0b8" stroke="#111" stroke-width="1.3"/>
  <path d="M141.5,122.5 L146,122.5 L146,126 L141.5,126.5 Z" fill="#40d0a8" stroke="#111" stroke-width="1"/>
  </g>
</svg>

<!-- nav buttons -->
<svg id="nav" width="150" height="440" viewBox="0 0 150 440">
  <defs><path id="arc" d="M106.2,170.1 C108.8,170.6 117.6,171.6 121.6,173.0 C125.6,174.4 128.3,176.7 130.4,178.5 C132.5,180.3 133.7,181.9 133.9,183.7 C134.1,185.5 133.2,187.4 131.7,189.2 C130.2,190.9 128.2,192.4 125.1,194.2 C121.9,196.0 118.1,198.0 112.8,199.8 C107.5,201.7 100.0,203.8 93.0,205.3 C86.0,206.8 80.1,207.8 71.0,208.6 C61.9,209.4 49.2,210.5 38.5,210.4 C27.8,210.3 12.2,208.5 7.0,208.1 L7.0,207.5 C12.2,207.6 29.7,208.1 38.5,208.0 C47.3,207.9 54.6,207.2 60.0,206.8 C65.4,206.4 65.5,206.5 71.0,205.5 C76.5,204.5 86.8,202.5 93.0,201.0 C99.2,199.5 104.0,198.0 108.4,196.3 C112.8,194.6 116.5,192.6 119.2,190.8 C121.9,189.0 123.7,187.0 124.6,185.3 C125.5,183.6 125.5,182.2 124.6,180.4 C123.7,178.6 122.3,176.0 119.2,174.3 C116.1,172.6 108.4,170.8 106.2,170.1 Z"/></defs>
  <use href="#arc" transform="translate(0,0.0)" fill="#3399ff"/>
  <use href="#arc" transform="translate(0,54.4)" fill="#ffc660"/>
  <use href="#arc" transform="translate(0,108.8)" fill="#ffc660"/>
  <use href="#arc" transform="translate(0,163.2)" fill="#ffc660"/>
  <use href="#arc" transform="translate(0,217.6)" fill="#ffc660"/>
  <g font-family="Liberation Sans" font-weight="bold" font-size="12" fill="#3399ff">
    <text x="51.6" y="188.9" textLength="38.8" lengthAdjust="spacingAndGlyphs">Home</text>
    <text x="28.9" y="243.5" textLength="83.4" lengthAdjust="spacingAndGlyphs">Our Services</text>
    <text x="21.0" y="297.9" textLength="100.4" lengthAdjust="spacingAndGlyphs">Our Experience</text>
    <text x="39.2" y="351.9" textLength="64.1" lengthAdjust="spacingAndGlyphs">Our Rates</text>
    <text x="42.5" y="406.8" textLength="56.2" lengthAdjust="spacingAndGlyphs">Email Us</text>
  </g>
</svg>

<!-- main content -->
<svg id="main" width="727" height="545" viewBox="0 0 727 545">
  <g fill="#ffd283">
    <rect x="176" y="113.9" width="539" height="1.8"/>
    <rect x="176" y="282.9" width="539" height="1.8"/>
  </g>
  <g fill="#ffbf4f">
    <circle cx="176" cy="114.8" r="3.3"/>
    <circle cx="715" cy="114.8" r="3.3"/>
    <circle cx="176" cy="283.6" r="3.3"/>
    <circle cx="715" cy="283.6" r="3.3"/>
  </g>
  <g fill="#3399ff">
    <circle cx="193.6" cy="142.75" r="3.7"/>
    <circle cx="193.6" cy="164.50" r="3.7"/>
    <circle cx="193.6" cy="186.25" r="3.7"/>
    <circle cx="193.6" cy="208.00" r="3.7"/>
    <circle cx="193.6" cy="229.75" r="3.7"/>
    <circle cx="193.6" cy="251.50" r="3.7"/>
  </g>
  <rect x="173" y="413" width="157" height="1" fill="#3399ff"/>
<text id="title" x="172" y="66" font-size="25" letter-spacing="0.4" fill="#3399ff">The Wright System</text>
<text id="sub" x="173" y="90.7" font-size="15.2" letter-spacing="0.075" fill="#1a1a1a" stroke="#1a1a1a" stroke-width="0.15">Your as needed office assistant</text>
<text id="li1" x="210" y="151.0" font-size="16" letter-spacing="0.125" fill="#000" stroke="#000" stroke-width="0.35">Secretarial Services</text>
<text id="li2" x="210" y="172.7" font-size="16" letter-spacing="0.155" fill="#000" stroke="#000" stroke-width="0.35">Bookkeeping Services</text>
<text id="li3" x="210" y="194.4" font-size="16" letter-spacing="0.125" fill="#000" stroke="#000" stroke-width="0.35">Paralegal Services</text>
<text id="li4" x="210" y="216.1" font-size="16" letter-spacing="0.14" fill="#000" stroke="#000" stroke-width="0.35">Work can be arranged in your office or ours</text>
<text id="li5" x="210" y="237.8" font-size="16" letter-spacing="0.145" fill="#000" stroke="#000" stroke-width="0.35">Pick-up and delivery available</text>
<text id="li6" x="210" y="259.5" font-size="16" letter-spacing="0.13" fill="#000" stroke="#000" stroke-width="0.35">Flexible days and hours</text>
<text id="c0" x="173" y="317.6" font-size="14" letter-spacing="0.145" fill="#1a1a1a" stroke="#1a1a1a" stroke-width="0.15">Contact us for more information:</text>
<text id="c1" x="173" y="338.0" font-size="14" letter-spacing="0.25" fill="#1a1a1a" stroke="#1a1a1a" stroke-width="0.15">The Wright System</text>
<text id="c2" x="173" y="357.6" font-size="14" letter-spacing="0.35" fill="#1a1a1a" stroke="#1a1a1a" stroke-width="0.15">248-321-3702</text>
<text id="c3" x="173" y="392.4" font-size="14" letter-spacing="0.175" fill="#1a1a1a" stroke="#1a1a1a" stroke-width="0.15">or email:</text>
<text id="c4" x="173" y="412.0" font-size="14" letter-spacing="0.3" fill="#3399ff" stroke="#3399ff" stroke-width="0.15">nanci@wrightsystem.biz</text>
</svg>

</body></html>
